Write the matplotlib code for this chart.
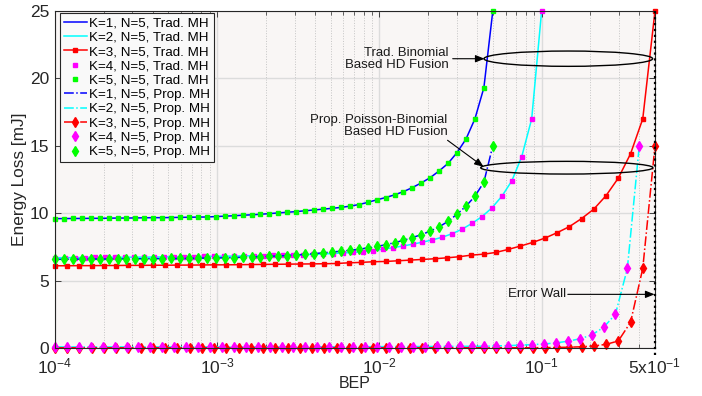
import numpy as np
import matplotlib
matplotlib.use("Agg")
import matplotlib.pyplot as plt
from matplotlib.patches import Ellipse
from matplotlib.ticker import LogLocator, NullFormatter

plt.rcParams['font.family'] = ['Liberation Sans', 'DejaVu Sans']
plt.rcParams['mathtext.fontset'] = 'custom'
plt.rcParams['mathtext.rm'] = 'Liberation Sans'
plt.rcParams['mathtext.it'] = 'Liberation Sans:italic'
plt.rcParams['mathtext.bf'] = 'Liberation Sans:bold'

# BEP sweeps (50 log-spaced points, each curve stops at its own error wall)
n_pts = 50
bep_w1 = np.logspace(-4, np.log10(0.05), n_pts)
bep_w2 = np.logspace(-4, -1, n_pts)
bep_w3 = np.logspace(-4, np.log10(0.5), n_pts)
bep_w4 = np.logspace(-4, np.log10(0.4), n_pts)

# energy loss [mJ]
trad_k1 = [9.60, 9.60, 9.61, 9.61, 9.62, 9.62, 9.63, 9.64, 9.64, 9.65,
           9.66, 9.67, 9.67, 9.68, 9.69, 9.70, 9.71, 9.72, 9.75, 9.78,
           9.81, 9.85, 9.88, 9.92, 9.97, 10.02, 10.07, 10.12, 10.18, 10.24,
           10.30, 10.36, 10.43, 10.52, 10.64, 10.80, 10.99, 11.16, 11.36, 11.60,
           11.90, 12.25, 12.64, 13.14, 13.70, 14.50, 15.50, 17.00, 19.30, 25.00]
trad_k2 = [6.70, 6.70, 6.71, 6.71, 6.72, 6.72, 6.73, 6.73, 6.74, 6.74,
           6.75, 6.76, 6.76, 6.77, 6.78, 6.79, 6.80, 6.81, 6.82, 6.83,
           6.84, 6.85, 6.87, 6.89, 6.91, 6.93, 6.95, 6.98, 7.01, 7.05,
           7.09, 7.14, 7.23, 7.33, 7.44, 7.56, 7.70, 7.85, 8.02, 8.22,
           8.48, 8.82, 9.25, 9.75, 10.40, 11.26, 12.40, 14.20, 17.00, 25.00]
trad_k3 = [6.10, 6.10, 6.11, 6.11, 6.12, 6.12, 6.13, 6.13, 6.14, 6.14,
           6.15, 6.15, 6.16, 6.17, 6.17, 6.18, 6.19, 6.20, 6.21, 6.22,
           6.23, 6.24, 6.25, 6.27, 6.32, 6.35, 6.40, 6.42, 6.47, 6.52,
           6.57, 6.62, 6.69, 6.77, 6.89, 6.96, 7.09, 7.31, 7.56, 7.83,
           8.15, 8.55, 9.00, 9.60, 10.30, 11.30, 12.60, 14.40, 17.00, 25.00]
prop_k1 = [6.58, 6.58, 6.59, 6.59, 6.60, 6.60, 6.60, 6.61, 6.61, 6.62,
           6.62, 6.63, 6.63, 6.64, 6.64, 6.65, 6.66, 6.67, 6.68, 6.69,
           6.71, 6.73, 6.75, 6.77, 6.80, 6.83, 6.86, 6.90, 6.94, 7.00,
           7.06, 7.12, 7.18, 7.25, 7.33, 7.42, 7.53, 7.66, 7.81, 7.99,
           8.19, 8.41, 8.67, 8.99, 9.40, 9.93, 10.52, 11.26, 12.30, 15.00]
prop_k2 = [0.08, 0.08, 0.08, 0.08, 0.08, 0.08, 0.08, 0.08, 0.08, 0.08,
           0.08, 0.08, 0.08, 0.08, 0.08, 0.08, 0.08, 0.08, 0.08, 0.08,
           0.09, 0.09, 0.09, 0.09, 0.10, 0.10, 0.10, 0.10, 0.11, 0.11,
           0.11, 0.11, 0.12, 0.12, 0.12, 0.13, 0.13, 0.15, 0.18, 0.21,
           0.25, 0.30, 0.38, 0.50, 0.68, 0.96, 1.53, 2.50, 5.90, 15.00]
prop_k3 = [0.02, 0.02, 0.02, 0.02, 0.02, 0.02, 0.02, 0.02, 0.02, 0.02,
           0.02, 0.02, 0.02, 0.02, 0.02, 0.02, 0.02, 0.02, 0.02, 0.02,
           0.02, 0.02, 0.02, 0.02, 0.02, 0.02, 0.02, 0.02, 0.02, 0.02,
           0.02, 0.02, 0.02, 0.02, 0.02, 0.02, 0.02, 0.02, 0.02, 0.02,
           0.03, 0.04, 0.06, 0.09, 0.15, 0.27, 0.52, 1.90, 5.90, 15.00]
# K=4 and K=5 coincide with K=2 and K=1
trad_k4, trad_k5 = trad_k2, trad_k1
prop_k4, prop_k5 = prop_k2, prop_k1

xtick_vals = [1e-4, 1e-3, 1e-2, 1e-1, 0.5]
xtick_labels = [r'$10^{-4}$', r'$10^{-3}$', r'$10^{-2}$', r'$10^{-1}$', r'5x$10^{-1}$']
ytick_vals = [0, 5, 10, 15, 20, 25]

BLUE, CYAN, RED, MAGENTA, GREEN = '#0000ff', '#00ffff', '#ff0000', '#ff00ff', '#00ff00'

fig = plt.figure(figsize=(7.02, 3.96), dpi=100)
ax = fig.add_axes([55 / 702, 1 - 348 / 396, 600 / 702, 337 / 396])
ax.set_facecolor('#f9f6f5')

lw = 1.1
ms_s = 3.5
ms_d = 4.7
kw = dict(clip_on=False)
ax.plot(bep_w1, trad_k1, '-', color=BLUE, lw=lw, label='K=1, N=5, Trad. MH', **kw)
ax.plot(bep_w2, trad_k2, '-', color=CYAN, lw=lw, label='K=2, N=5, Trad. MH', **kw)
ax.plot(bep_w3, trad_k3, '-s', color=RED, lw=lw, ms=ms_s, label='K=3, N=5, Trad. MH', **kw)
ax.plot(bep_w2, trad_k4, 's', color=MAGENTA, ms=ms_s, label='K=4, N=5, Trad. MH', **kw)
ax.plot(bep_w1, trad_k5, 's', color=GREEN, ms=ms_s, label='K=5, N=5, Trad. MH', **kw)
ax.plot(bep_w1, prop_k1, '-.', color=BLUE, lw=lw, label='K=1, N=5, Prop. MH', **kw)
ax.plot(bep_w4, prop_k2, '-.', color=CYAN, lw=lw, label='K=2, N=5, Prop. MH', **kw)
ax.plot(bep_w3, prop_k3, '-.d', color=RED, lw=lw, ms=ms_d, label='K=3, N=5, Prop. MH', **kw)
ax.plot(bep_w4, prop_k4, 'd', color=MAGENTA, ms=ms_d, label='K=4, N=5, Prop. MH', **kw)
ax.plot(bep_w1, prop_k5, 'd', color=GREEN, ms=ms_d, label='K=5, N=5, Prop. MH', **kw)

# error wall at BEP = 0.5
ax.plot([0.5, 0.5], [-0.5, 25.15], ':', color='k', lw=1.6, clip_on=False, zorder=5)

ax.set_xscale('log')
ax.set_xlim(1e-4, 0.5)
ax.set_ylim(0, 25)
ax.set_xticks(xtick_vals)
ax.set_xticklabels(xtick_labels)
ax.xaxis.set_minor_locator(LogLocator(base=10, subs=np.arange(2, 10), numticks=20))
ax.xaxis.set_minor_formatter(NullFormatter())
ax.set_yticks(ytick_vals)
ax.tick_params(which='both', direction='in', top=True, right=True, labelsize=12.5,
               colors='#262626')
ax.tick_params(axis='x', pad=6)
ax.tick_params(axis='y', pad=4)
ax.tick_params(which='major', length=4.2, width=0.6)
ax.tick_params(which='minor', length=2.9, width=0.5)
for sp in ax.spines.values():
    sp.set_color('#262626')
    sp.set_linewidth(0.8)

ax.set_axisbelow(True)
ax.grid(True, which='major', color='#dcdcdc', lw=1.0, ls='-')
ax.grid(True, which='minor', axis='x', color='#c4c4c4', lw=0.7, ls=':')

ax.set_xlabel('BEP', fontsize=11.5, color='#262626', labelpad=0)
ax.set_ylabel('Energy Loss [mJ]', fontsize=12.4, color='#262626', labelpad=2)

# annotations
ax.add_patch(Ellipse((0.8555, 0.8585), 0.281, 0.0454, transform=ax.transAxes,
                     fill=False, ec='k', lw=1.0, clip_on=False, zorder=6))
ax.add_patch(Ellipse((0.853, 0.535), 0.287, 0.0377, transform=ax.transAxes,
                     fill=False, ec='k', lw=1.0, clip_on=False, zorder=6))
arrow = dict(arrowstyle='-|>,head_length=0.55,head_width=0.22', color='k', lw=0.8,
             shrinkA=0, shrinkB=0)
ax.text(0.0267, 21.46, 'Trad. Binomial\nBased HD Fusion', ha='right', va='center',
        fontsize=9.5, linespacing=1.0, color='#1a1a1a')
ax.annotate('', xy=(0.0445, 21.46), xytext=(0.0283, 21.46), arrowprops=arrow)
ax.text(0.0262, 16.5, 'Prop. Poisson-Binomial\nBased HD Fusion', ha='right', va='center',
        fontsize=9.5, linespacing=1.0, color='#1a1a1a')
ax.annotate('', xy=(0.0439, 13.44), xytext=(0.0263, 15.41), arrowprops=arrow)
ax.text(0.0622, 3.98, 'Error Wall', ha='left', va='center', fontsize=9.5, color='#1a1a1a')
ax.annotate('', xy=(0.497, 3.98), xytext=(0.145, 3.98), arrowprops=arrow)

leg = ax.legend(loc='upper left', bbox_to_anchor=(0.008, 0.994), borderaxespad=0,
                fontsize=9.6, labelspacing=0.15, handlelength=1.75, handletextpad=0.15,
                borderpad=0.3, fancybox=False, framealpha=1, facecolor='#f9f9f9',
                edgecolor='#262626')
leg.get_frame().set_linewidth(0.8)

fig.savefig('out.png', dpi=100)
